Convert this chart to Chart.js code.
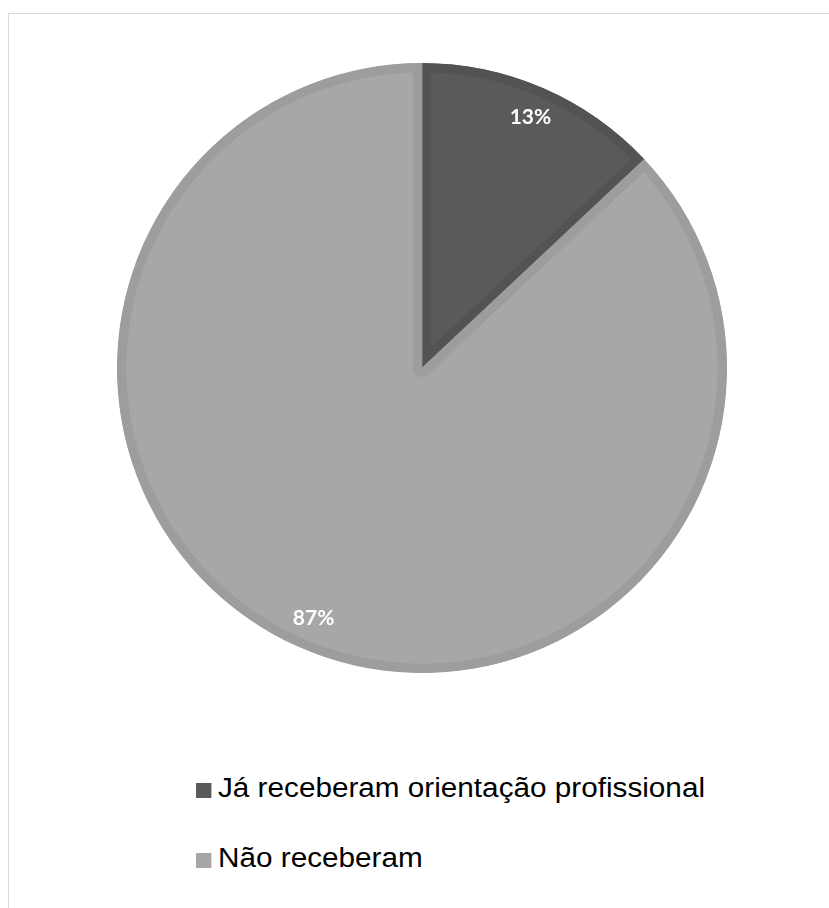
<!DOCTYPE html>
<html lang="pt">
<head>
    <meta charset="UTF-8">
    <title>Orientação profissional</title>

    <style>
        body {
            margin: 0;
            background: #ffffff;
        }
        .frame {
            position: absolute;
            left: 8px;
            top: 13px;
            width: 840px;
            height: 920px;
            border: 1px solid #d9d9d9;
            box-sizing: border-box;
        }
        .pie {
            position: absolute;
            left: 117px;
            top: 63px;
            width: 610px;
            height: 610px;
        }
        .legend {
            position: absolute;
            left: 196px;
            top: 773px;
            font-family: "Liberation Sans", Arial, sans-serif;
            font-size: 27px;
            color: #000000;
            transform: scaleX(1.1);
            transform-origin: left top;
        }
        .legend div {
            height: 70px;
            line-height: 30px;
            white-space: nowrap;
        }
        .legend span {
            display: inline-block;
            width: 14px;
            height: 15px;
            margin-right: 6px;
            vertical-align: -1px;
        }
    </style>
</head>
<body>
    <div class="frame"></div>
    <div class="pie">
        <canvas id="chart"></canvas>
    </div>
    <div class="legend" id="legend"></div>

    <script src="https://cdn.jsdelivr.net/npm/chart.js@4/dist/chart.umd.min.js"></script>
    <script>
        const labels = ['Já receberam orientação profissional', 'Não receberam'];
        const values = [13, 87];
        const fills = ['#5a5a5a', '#a7a7a7'];
        const edges = ['#535353', '#9d9d9d'];

        // percentage text placed at the middle of each slice
        const percentLabels = {
            id: 'percentLabels',
            afterDatasetsDraw(chart) {
                const ctx = chart.ctx;
                const meta = chart.getDatasetMeta(0);
                const total = values.reduce((a, b) => a + b, 0);
                ctx.save();
                ctx.font = 'bold 21px Lato, "Open Sans", sans-serif';
                ctx.fillStyle = '#ffffff';
                ctx.textAlign = 'center';
                ctx.textBaseline = 'middle';
                meta.data.forEach((arc, i) => {
                    const mid = (arc.startAngle + arc.endAngle) / 2;
                    const r = arc.outerRadius * 0.895;
                    const x = arc.x + Math.cos(mid) * r;
                    const y = arc.y + Math.sin(mid) * r;
                    ctx.fillText(Math.round(values[i] / total * 100) + '%', x, y);
                });
                ctx.restore();
            }
        };

        new Chart(document.getElementById('chart'), {
            type: 'pie',
            data: {
                labels: labels,
                datasets: [{
                    data: values,
                    backgroundColor: fills,
                    borderColor: edges,
                    borderWidth: 9,
                    borderAlign: 'inner'
                }]
            },
            options: {
                responsive: true,
                maintainAspectRatio: true,
                aspectRatio: 1,
                animation: false,
                layout: { padding: 0 },
                plugins: {
                    legend: { display: false },
                    tooltip: { enabled: false }
                }
            },
            plugins: [percentLabels]
        });

        const legend = document.getElementById('legend');
        labels.forEach((text, i) => {
            const row = document.createElement('div');
            const box = document.createElement('span');
            box.style.background = fills[i];
            row.appendChild(box);
            row.appendChild(document.createTextNode(text));
            legend.appendChild(row);
        });
    </script>
</body>
</html>
